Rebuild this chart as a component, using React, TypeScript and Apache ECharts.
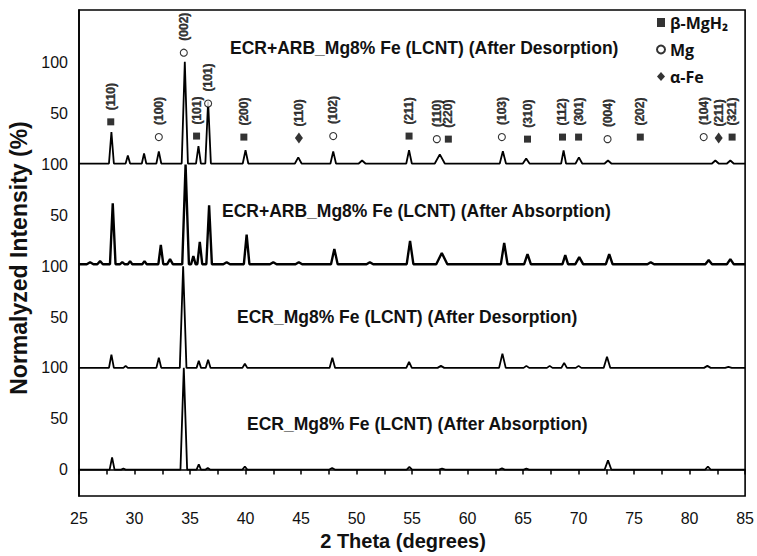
import { useEffect, useRef } from "react";
import * as echarts from "echarts";

// ---------- data ----------
// vertical offsets of the four stacked patterns (bottom to top)
const traceOffsets = [0, 100, 202, 301];
const traceNames = [
  "ECR_Mg8% Fe (LCNT) (After Absorption)",
  "ECR_Mg8% Fe (LCNT) (After Desorption)",
  "ECR+ARB_Mg8% Fe (LCNT) (After Absorption)",
  "ECR+ARB_Mg8% Fe (LCNT) (After Desorption)",
];

// peaks: [2theta, normalized intensity, half width]
const ecrAbsorptionPeaks: [number, number, number][] = [
  [27.98, 12, 0.22], [29.0, 1, 0.2], [34.44, 100, 0.3], [35.79, 5, 0.2],
  [36.6, 1.5, 0.2], [39.94, 3, 0.22], [47.8, 1.5, 0.25], [54.76, 2.5, 0.25],
  [57.7, 1, 0.3], [63.1, 1.2, 0.25], [65.3, 1, 0.25], [72.65, 9, 0.3],
  [81.65, 3, 0.25],
];
const ecrDesorptionPeaks: [number, number, number][] = [
  [27.92, 13, 0.22], [29.2, 2, 0.2], [32.19, 10, 0.22], [34.38, 100, 0.3],
  [35.79, 7, 0.2], [36.63, 8, 0.22], [39.94, 4, 0.22], [47.82, 10, 0.25],
  [54.73, 6, 0.25], [57.6, 2, 0.3], [63.14, 14, 0.3], [65.3, 2, 0.25],
  [67.4, 2, 0.25], [68.7, 5, 0.25], [70.0, 2, 0.25], [72.56, 11, 0.3],
  [81.6, 2, 0.3], [83.5, 1, 0.3],
];
const arbAbsorptionPeaks: [number, number, number][] = [
  [26.0, 2, 0.3], [26.9, 3, 0.25], [28.04, 60, 0.25], [28.9, 2, 0.2],
  [29.6, 3, 0.2], [30.9, 3, 0.2], [32.37, 19, 0.22], [33.2, 5, 0.25],
  [34.6, 98, 0.3], [35.3, 8, 0.2], [35.88, 22, 0.22], [36.72, 58, 0.25],
  [38.3, 2, 0.3], [40.1, 29, 0.25], [42.5, 2, 0.3], [44.8, 2, 0.3],
  [48.0, 15, 0.3], [51.2, 2, 0.3], [54.82, 23, 0.3], [57.68, 11, 0.5],
  [63.3, 21, 0.3], [65.4, 10, 0.3], [68.8, 9, 0.25], [70.06, 7, 0.35],
  [72.76, 10, 0.3], [76.5, 2, 0.3], [81.72, 4, 0.3], [83.67, 5, 0.3],
];
const arbDesorptionPeaks: [number, number, number][] = [
  [27.92, 31, 0.22], [29.4, 8, 0.2], [30.86, 10, 0.2], [32.19, 12, 0.22],
  [34.53, 100, 0.28], [35.76, 17, 0.22], [36.63, 61, 0.25], [40.0, 13, 0.25],
  [44.75, 6, 0.3], [47.9, 12, 0.25], [50.5, 3, 0.3], [54.73, 13, 0.25],
  [57.5, 9, 0.45], [63.18, 12, 0.28], [65.28, 5, 0.3], [68.65, 13, 0.22],
  [70.03, 6, 0.3], [72.65, 3, 0.3], [82.32, 3, 0.3], [83.67, 3, 0.3],
];
const tracePeaks = [ecrAbsorptionPeaks, ecrDesorptionPeaks, arbAbsorptionPeaks, arbDesorptionPeaks];
const traceWidths = [1.8, 1.8, 2.4, 1.8];

// phase markers: position, height on the chart, Miller index
const mgh2Pos = [27.86, 35.59, 39.85, 54.73, 58.27, 65.4, 68.55, 70.0, 75.56, 83.83];
const mgh2Y = [342, 328, 327, 328, 325, 325, 327, 327, 327, 327];
const mgh2Hkl = ["(110)", "(101)", "(200)", "(211)", "(220)", "(310)", "(112)", "(301)", "(202)", "(321)"];
const mgPos = [32.19, 34.44, 36.63, 47.9, 57.23, 63.09, 72.61, 81.27];
const mgY = [327, 410, 360, 328, 325, 327, 325, 327];
const mgHkl = ["(100)", "(002)", "(101)", "(102)", "(110)", "(103)", "(004)", "(104)"];
const fePos = [44.81, 82.62];
const feY = [326, 326];
const feHkl = ["(110)", "(211)"];

// axis ticks
const yTickValues = [0, 50, 100, 150, 200, 250, 300, 350, 400];
const yTickLabels = ["0", "50", "100", "50", "100", "50", "100", "50", "100"];

const FONT = "Liberation Sans, Arial, sans-serif";

function buildTrace(peaks: [number, number, number][], off: number) {
  const pts: [number, number][] = [[25, off]];
  const sorted = [...peaks].sort((a, b) => a[0] - b[0]);
  for (const [c, h, w] of sorted) {
    pts.push([c - w, off]);
    pts.push([c, off + h]);
    pts.push([c + w, off]);
  }
  pts.push([85, off]);
  return pts;
}

export default function App() {
  const ref = useRef<HTMLDivElement>(null);
  useEffect(() => {
    if (!ref.current) return;
    const chart = echarts.init(ref.current, undefined, { renderer: "svg" });
    const markerLabel = {
      show: true,
      formatter: (p: any) => p.data[2],
      rotate: 90,
      position: "top",
      distance: 6,
      offset: [2, 0],
      align: "left",
      verticalAlign: "middle",
      fontSize: 12,
      fontWeight: 700,
      fontFamily: FONT,
      color: "#000",
      textBorderColor: "#000",
      textBorderWidth: 0.4,
    };
    const lineSeries = tracePeaks.map((pk, i) => ({
      type: "line",
      name: traceNames[i],
      data: buildTrace(pk, traceOffsets[i]),
      showSymbol: false,
      symbol: "none",
      lineStyle: { color: "#000", width: traceWidths[i] },
      z: 2,
      silent: true,
    }));
    const sampleText = (text: string, x: number, y: number) => ({
      type: "text",
      x,
      y,
      style: { text, fontSize: 17.5, fontWeight: "bold", fontFamily: FONT, fill: "#111", align: "left", verticalAlign: "middle" },
    });
    chart.setOption({
      animation: false,
      backgroundColor: "#fff",
      grid: { left: 79, right: 11, top: 10, bottom: 60, show: true, borderColor: "#000", borderWidth: 1.6 },
      legend: {
        data: ["β-MgH₂", "Mg", "α-Fe"],
        orient: "vertical",
        left: 651,
        top: 8,
        itemWidth: 8,
        itemHeight: 9,
        itemGap: 8,
        textStyle: { fontFamily: "Open Sans, DejaVu Sans, sans-serif", fontWeight: "bold", fontSize: 16, color: "#111", lineHeight: 19 },
      },
      xAxis: {
        type: "value",
        min: 25,
        max: 85,
        interval: 5,
        axisLine: { lineStyle: { color: "#000", width: 1.6 } },
        axisTick: { show: true, length: 5, lineStyle: { color: "#000", width: 1.5 } },
        minorTick: { show: true, splitNumber: 2, length: 5, lineStyle: { color: "#000", width: 1.5 } },
        axisLabel: { fontSize: 16, fontFamily: FONT, color: "#111", margin: 14 },
        splitLine: { show: false },
      },
      yAxis: {
        type: "value",
        min: -26,
        max: 452,
        axisLine: { show: true, lineStyle: { color: "#000", width: 1.6 } },
        axisTick: { show: false, customValues: yTickValues },
        axisLabel: {
          customValues: yTickValues,
          fontSize: 16,
          fontFamily: FONT,
          color: "#111",
          margin: 11,
          formatter: (v: number) => {
            const i = yTickValues.indexOf(v);
            return i >= 0 ? yTickLabels[i] : "";
          },
        },
        splitLine: { show: false },
      },
      series: [
        ...lineSeries,
        {
          type: "scatter",
          name: "β-MgH₂",
          symbol: "rect",
          symbolSize: 7,
          itemStyle: { color: "#000" },
          data: mgh2Pos.map((x, i) => [x, mgh2Y[i], mgh2Hkl[i]]),
          label: markerLabel,
          z: 5,
        },
        {
          type: "scatter",
          name: "Mg",
          symbol: "circle",
          symbolSize: 7,
          itemStyle: { color: "#fff", borderColor: "#000", borderWidth: 1.1 },
          data: mgPos.map((x, i) => [x, mgY[i], mgHkl[i]]),
          label: markerLabel,
          z: 5,
        },
        {
          type: "scatter",
          name: "α-Fe",
          symbol: "diamond",
          symbolSize: [8, 11],
          itemStyle: { color: "#000" },
          data: fePos.map((x, i) => [x, feY[i], feHkl[i]]),
          label: { ...markerLabel, distance: 4 },
          z: 5,
        },
      ],
      graphic: [
        {
          type: "text",
          x: 19,
          y: 258,
          rotation: Math.PI / 2,
          style: { text: "Normalyzed Intensity (%)", fontSize: 23, fontWeight: "bold", fontFamily: FONT, fill: "#111", align: "center", verticalAlign: "middle" },
        },
        {
          type: "text",
          x: 403,
          y: 541,
          style: { text: "2 Theta (degrees)", fontSize: 20, fontWeight: "bold", fontFamily: FONT, fill: "#111", align: "center", verticalAlign: "middle" },
        },
        sampleText(traceNames[3], 230, 48),
        sampleText(traceNames[2], 222, 211),
        sampleText(traceNames[1], 237, 317),
        sampleText(traceNames[0], 247, 424),
      ],
    });
    return () => chart.dispose();
  }, []);
  return (
    <div
      ref={ref}
      style={{ position: "fixed", left: 0, top: 0, width: 757, height: 556, background: "#fff" }}
    />
  );
}
